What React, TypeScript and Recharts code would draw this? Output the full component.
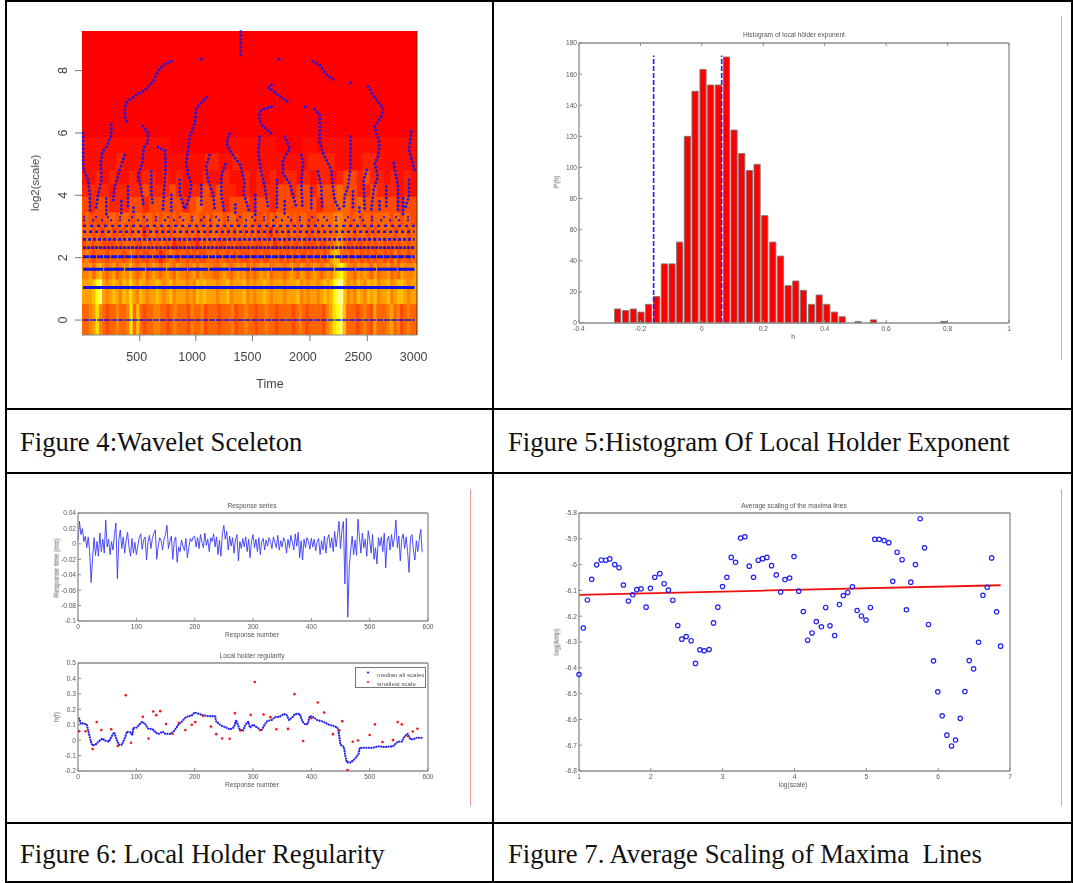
import React from "react";
import { ComposedChart, XAxis, YAxis, Line, Bar, Scatter, ReferenceArea, ReferenceLine, Legend } from "recharts";

// ---------- Figure 4: wavelet skeleton ----------
const heatColors: Record<string, string> = {
  "0": "#FF0000", a: "#FF0E00", "1": "#FF2400", "2": "#FF4A00", "3": "#FF6500", "4": "#FF8300",
  "5": "#FFA000", "6": "#FFBF00", "7": "#FFDF00", "8": "#FFFF00", "9": "#FFFF90",
};
const timeStart = 6;
const timeEnd = 3030;
const heatBands = [
  [-0.48, 0.51], [0.51, 1.31], [1.31, 1.83], [1.83, 2.25], [2.25, 2.65], [2.65, 3.0], [3.0, 3.45],
  [3.45, 3.95], [3.95, 4.35], [4.35, 4.8], [4.8, 5.35], [5.35, 5.85],
];
const heatRows = [
  "334574323343347363233443323433324334233323334233433233433233332343233332457896333234325333453423433",
  "5556895456546575465455654564555454656555455645556454556545554555645455456568996454654656455645665455",
  "4453564345345464345345434543544345354443345434545343454534443454354345434546786443545435344534354445",
  "3432333233332343232233212343233232322333233232322232232233323232322323232356633323323232332324233233",
  "2332332222323333223323233231222322132323222323223232223231232232232222322334543223223232332323233233",
  "3332322332232323331233232323333233233233323232332323223213233233233223233333443332333232333332333233",
  "2322222233233322332332323323233323322323332333223332223232333323233222333334443323323323333323323322",
  "21221112212222212322212221221222222122332322222122",
  "1111a1111211121a1121211a1a111221221222322112111a1a",
  "aa1a1aa1a11a1a1aaa1aa1aa1a1a1a11a1a11a1221211a1a1a",
  "aaaaa1aaaaaaaaaaaa11aa1aaaaaaaaaa1111aaaa11aaaaaa",
  "aaaaaaaaaaaaa000000000aaaaaaa0000aa0aaaaaaaaaaaaaa",
];
const ridgeLines: number[][][] = [
  [[1438, 9.25], [1438, 8.4]],
  [[813, 8.3], [737, 8.18], [692, 7.97], [647, 7.65], [572, 7.36], [503, 7.23], [452, 7.11], [407, 6.97], [391, 6.74], [397, 6.47], [415, 6.31]],
  [[271, 6.26], [271, 5.94], [232, 5.58], [190, 5.4], [175, 5.03], [181, 4.49], [151, 4.01], [130, 3.5]],
  [[16, 5.99], [16, 5.2], [20, 4.81], [61, 4.49], [76, 4.06], [80, 3.4]],
  [[391, 5.29], [346, 4.81], [301, 4.28], [286, 3.8]],
  [[557, 6.22], [602, 5.99], [602, 5.72], [563, 5.51], [551, 5.03], [512, 4.65], [542, 4.17], [563, 3.64]],
  [[692, 5.54], [755, 5.43], [761, 4.92], [749, 4.28], [737, 3.53]],
  [[632, 4.76], [632, 4.06], [647, 3.64]],
  [[1128, 7.14], [1038, 6.79], [1023, 6.31], [978, 5.88], [948, 5.03], [963, 4.65], [993, 4.38], [978, 3.96], [933, 3.53]],
  [[1158, 5.29], [1128, 4.92], [1143, 4.49], [1189, 4.06], [1204, 3.53]],
  [[1339, 5.97], [1309, 5.67], [1369, 5.29], [1435, 4.97], [1474, 4.44], [1465, 4.06], [1520, 3.42]],
  [[1300, 5.0], [1264, 4.6], [1264, 3.96], [1294, 3.42]],
  [[1715, 7.54], [1685, 7.43]],
  [[1715, 7.38], [1775, 7.22], [1874, 6.97]],
  [[1715, 6.84], [1625, 6.74], [1601, 6.53], [1625, 6.26], [1730, 5.94]],
  [[1610, 5.88], [1598, 5.35], [1625, 4.71], [1655, 4.28], [1685, 3.64]],
  [[1835, 5.88], [1880, 5.51], [1820, 5.13], [1820, 4.71], [1880, 4.38], [1940, 3.64]],
  [[1986, 5.29], [2001, 5.03], [1986, 4.38], [1995, 3.64]],
  [[2106, 6.76], [2151, 6.58], [2151, 5.67], [2196, 5.24], [2256, 4.81], [2271, 4.28], [2286, 3.85], [2332, 3.53]],
  [[2136, 4.76], [2166, 4.28], [2175, 3.53]],
  [[2431, 5.88], [2428, 4.81], [2407, 4.28], [2377, 3.96], [2368, 3.53]],
  [[2587, 7.49], [2632, 7.22], [2723, 6.79], [2708, 6.53], [2647, 6.2], [2692, 5.67], [2677, 5.24], [2647, 5.03], [2677, 4.6], [2638, 4.17], [2617, 3.53]],
  [[2578, 4.81], [2548, 4.49], [2557, 3.53]],
  [[2819, 5.03], [2858, 4.28], [2858, 3.53]],
  [[2978, 6.04], [2957, 5.45], [3008, 4.81]],
  [[2957, 4.49], [2957, 3.96], [2918, 3.53]],
  [[2091, 8.29], [2151, 8.18], [2211, 7.86], [2272, 7.72]],
  [[888, 4.49], [888, 4.06], [933, 3.53]],
  [[1083, 4.33], [1083, 3.64]],
  [[2076, 4.22], [2076, 3.48]],
  [[2452, 4.12], [2452, 3.53]],
  [[2753, 4.28], [2753, 3.53]],
  [[2692, 3.8], [2692, 3.48]],
  [[421, 4.28], [421, 3.64]],
  [[226, 3.9], [226, 3.37]],
  [[361, 3.8], [361, 3.37]],
  [[813, 4.01], [813, 3.42]],
  [[1835, 3.8], [1835, 3.37]],
  [[1766, 4.49], [1766, 3.53]],
  [[471, 3.6], [471, 3.37]], [[1390, 3.7], [1390, 3.37]], [[1570, 4.0], [1570, 3.37]], [[2510, 3.6], [2510, 3.37]], [[2905, 3.9], [2905, 3.37]],
];
const isolatedPoints = [[2021, 6.84], [2431, 7.62], [1784, 8.37], [1083, 8.37]];
const scaleRows = [3.3, 3.2, 3.02, 2.83, 2.59, 2.32, 2.03, 1.63, 1.04, 0];
const scaleRowWidths = [1.8, 1.8, 2.4, 2.4, 2.8, 2.8, 3.2, 3, 3, 1.6];
const scaleRowDash = ["2 10", "2 7", "3 4", "3 3", "3 2", "3 1", "6 1", "20 1", "", "6 1"];
const timeTicks = [500, 1000, 1500, 2000, 2500, 3000];
const timeTickMarkShift = [3, 3.7, 5, 7, 9, 0];
const scaleTicks = [0, 2, 4, 6, 8];

// ---------- Figure 5: histogram ----------
const holderBins = [-0.275, -0.249, -0.224, -0.199, -0.174, -0.148, -0.123, -0.098, -0.073, -0.048, -0.023, 0.003, 0.028, 0.053, 0.079, 0.104, 0.129, 0.154, 0.179, 0.204, 0.23, 0.255, 0.28, 0.305, 0.33, 0.356, 0.381, 0.406, 0.431, 0.456, 0.508, 0.558, 0.787];
const holderCounts = [9, 8, 9, 7, 12, 17, 38, 38, 52, 120, 149, 163, 153, 153, 171, 124, 109, 98, 102, 69, 52, 43, 24, 27, 21, 12, 18, 12, 7, 4, 1, 2, 1];
const holderBounds = [-0.157, 0.0645];

// ---------- Figure 6: response series + local regularity ----------
const responseMilli = [
  5, 29, 12, 20, 3, 10, -5, 9, -10, -50, -18, 8, -15, 3, -16, 14, -10, 6, -12, 31,
  -4, 6, -14, 3, -8, 12, 27, -45, 5, 18, -6, 9, -12, 4, 15, -4, -16, 7, -12, 2,
  -14, -3, 8, 13, -7, 5, 9, -21, 3, 11, -6, 7, 14, 18, -20, -3, 8, 4, -8, 6,
  12, 24, -6, 3, 10, -20, 4, 9, -24, -4, -10, 5, -3, -9, 7, -18, -5, 7, 3, 9,
  10, -4, 8, -6, 12, 2, -5, 14, -2, 6, -10, 8, 3, 13, -4, 9, -14, 5, -16, 13,
  24, 6, 16, -8, 10, -3, 8, -12, 5, 12, -22, 3, -6, 7, -4, 9, -10, 6, -18, 4,
  12, -5, 6, -10, 8, -14, 3, 7, -8, 5, -3, 8, 3, -6, 9, 2, -5, 11, -8, 4,
  -4, 8, 3, -12, 6, -5, 11, 2, -8, 13, -3, 15, -18, 4, -21, 6, -5, 8, 3, -7,
  7, -4, 6, -9, 3, 7, -14, 4, -8, 10, -12, 6, 12, -5, 8, -10, 16, -4, 12, 29,
  -6, 18, 29, -52, 33, -95, -30, -8, 10, -14, 5, -15, 32, 8, -12, 14, -5, 6, -16, 17,
  5, -12, 12, -20, -5, -26, 8, -3, 9, -10, 14, -31, 5, 10, -8, 12, -4, 8, 31, -5,
  10, -22, 6, 13, -6, 9, -10, -37, 8, 12, -8, -21, 4, -10, 6, 19, -11,
];
const responseStep = 2.5;
const medianN = [2, 5, 10, 15, 18, 22, 25, 30, 35, 42, 47, 53, 57, 62, 66, 70, 75, 80, 84, 90, 93, 95, 100, 105, 110, 115, 120, 128, 133, 138, 145, 150, 158, 165, 172, 178, 185, 195, 200, 207, 215, 225, 235, 237, 245, 255, 260, 265, 268, 271, 274, 277, 283, 287, 292, 295, 300, 308, 314, 320, 325, 332, 338, 345, 353, 358, 362, 368, 372, 380, 385, 390, 394, 397, 403, 410, 420, 430, 440, 445, 447, 450, 456, 458, 461, 468, 475, 481, 483, 495, 505, 515, 525, 540, 548, 555, 560, 565, 570, 575, 580, 590];
const medianH = [0.14, 0.105, 0.11, 0.1, 0.055, -0.01, -0.035, -0.03, -0.01, 0.01, -0.005, -0.01, 0.02, 0.05, 0.005, -0.03, -0.03, 0.01, 0.055, 0.05, 0.03, 0.08, 0.08, 0.1, 0.12, 0.105, 0.075, 0.07, 0.05, 0.04, 0.055, 0.04, 0.04, 0.06, 0.1, 0.12, 0.15, 0.16, 0.18, 0.17, 0.16, 0.155, 0.155, 0.12, 0.095, 0.08, 0.07, 0.075, 0.09, 0.13, 0.1, 0.07, 0.06, 0.1, 0.12, 0.08, 0.1, 0.08, 0.06, 0.1, 0.125, 0.13, 0.15, 0.15, 0.17, 0.16, 0.13, 0.15, 0.17, 0.17, 0.12, 0.1, 0.105, 0.155, 0.15, 0.13, 0.12, 0.1, 0.09, 0.08, 0.05, -0.03, -0.045, -0.1, -0.145, -0.145, -0.12, -0.09, -0.05, -0.05, -0.05, -0.04, -0.045, -0.04, -0.01, -0.01, 0.025, 0.04, 0.005, 0.005, 0.015, 0.015];
const smallestN = [2, 13, 25, 32, 40, 57, 68, 82, 91, 111, 121, 129, 134, 141, 151, 162, 173, 184, 195, 201, 214, 228, 237, 247, 260, 269, 278, 296, 303, 312, 318, 330, 340, 360, 371, 386, 400, 411, 422, 437, 448, 453, 462, 471, 480, 500, 509, 522, 540, 548, 555, 566, 574, 582];
const smallestH = [0.058, 0.058, -0.058, 0.117, 0.065, 0.071, -0.038, 0.291, -0.017, 0.151, 0.011, 0.186, 0.162, 0.188, 0.104, 0.041, 0.112, 0.065, 0.1, 0.117, 0.158, 0.088, 0.039, 0.011, 0.009, 0.175, 0.063, 0.164, 0.377, 0.065, 0.166, 0.149, 0.071, 0.073, 0.298, -0.006, 0.142, 0.244, 0.179, 0.039, 0.063, 0.123, -0.194, -0.01, -0.002, 0.033, 0.102, -0.012, 0, 0.117, 0.102, 0.025, 0.056, 0.074];

// ---------- Figure 7: maxima scaling ----------
const logScale = [1, 1.06, 1.116, 1.176, 1.246, 1.311, 1.372, 1.428, 1.497, 1.558, 1.618, 1.688, 1.748, 1.804, 1.864, 1.934, 1.994, 2.055, 2.125, 2.185, 2.245, 2.306, 2.375, 2.431, 2.492, 2.561, 2.622, 2.682, 2.743, 2.812, 2.873, 2.933, 2.998, 3.059, 3.119, 3.179, 3.249, 3.309, 3.37, 3.43, 3.495, 3.556, 3.616, 3.681, 3.746, 3.807, 3.867, 3.932, 3.993, 4.058, 4.123, 4.183, 4.244, 4.304, 4.374, 4.434, 4.494, 4.559, 4.625, 4.68, 4.741, 4.806, 4.871, 4.931, 4.996, 5.057, 5.117, 5.178, 5.247, 5.312, 5.368, 5.428, 5.498, 5.558, 5.619, 5.684, 5.749, 5.81, 5.865, 5.935, 5.995, 6.056, 6.121, 6.186, 6.242, 6.307, 6.372, 6.432, 6.493, 6.562, 6.623, 6.683, 6.744, 6.813, 6.869];
const logAmp = [-6.426, -6.246, -6.137, -6.057, -6.001, -5.982, -5.983, -5.978, -6, -6.012, -6.079, -6.141, -6.117, -6.097, -6.094, -6.165, -6.092, -6.049, -6.035, -6.074, -6.099, -6.138, -6.236, -6.289, -6.279, -6.295, -6.383, -6.33, -6.334, -6.329, -6.226, -6.165, -6.085, -6.049, -5.972, -5.991, -5.897, -5.892, -6.006, -6.049, -5.983, -5.977, -5.972, -6.004, -6.04, -6.106, -6.058, -6.052, -5.969, -6.103, -6.182, -6.293, -6.265, -6.221, -6.241, -6.166, -6.237, -6.275, -6.155, -6.12, -6.108, -6.086, -6.178, -6.199, -6.215, -6.166, -5.902, -5.902, -5.907, -5.915, -6.065, -5.952, -5.981, -6.175, -6.068, -6, -5.822, -5.935, -6.232, -6.373, -6.493, -6.586, -6.661, -6.703, -6.68, -6.596, -6.492, -6.372, -6.404, -6.301, -6.119, -6.088, -5.974, -6.183, -6.316];
const fitX = [1, 6.87];
const fitY = [-6.117, -6.08];

// ---------- shared style ----------
const SANS = "'Liberation Sans', Arial, sans-serif";
const AXIS = "#8c8c8c";
const INK = "#555";
const SMALL = 6.6;
const fmt = (v: number) => String(Number(v.toFixed(2)));
const range = (a: number, b: number, s: number) => {
  const out: number[] = [];
  for (let i = 0; a + i * s <= b + 1e-9; i++) out.push(Number((a + i * s).toFixed(3)));
  return out;
};

const Bottom = (p: any) => (
  <g>
    <line x1={p.x} x2={p.x} y1={p.y} y2={p.y - 3} stroke={AXIS} />
    <text x={p.x} y={p.y + 8} textAnchor="middle" fontSize={SMALL} fontFamily={SANS} fill={INK}>{fmt(p.payload.value)}</text>
  </g>
);
const Top = (p: any) => <line x1={p.x} x2={p.x} y1={p.y} y2={p.y + 3} stroke={AXIS} />;
const Left = (p: any) => (
  <g>
    <line x1={p.x} x2={p.x + 3} y1={p.y} y2={p.y} stroke={AXIS} />
    <text x={p.x - 2} y={p.y + 2.4} textAnchor="end" fontSize={SMALL} fontFamily={SANS} fill={INK}>{fmt(p.payload.value)}</text>
  </g>
);
const Right = (p: any) => <line x1={p.x} x2={p.x - 3} y1={p.y} y2={p.y} stroke={AXIS} />;

function Note({ x, y, text, rotate }: { x: number; y: number; text: string; rotate?: boolean }) {
  return (
    <div style={{ position: "absolute", left: x, top: y, transform: `translate(-50%,-50%)${rotate ? " rotate(-90deg)" : ""}`, fontFamily: SANS, fontSize: SMALL, color: INK, whiteSpace: "nowrap", lineHeight: 1, filter: "blur(0.35px)" }}>
      {text}
    </div>
  );
}

type Box = { l: number; t: number; w: number; h: number };
const PAD = { l: 40, t: 5, r: 16, b: 20 };

function MatlabChart({ box, data, xDomain, yDomain, xTicks, yTicks, children, blur = 0.7 }: any) {
  return (
    <div style={{ position: "absolute", left: box.l - PAD.l, top: box.t - PAD.t, filter: `blur(${blur}px)` }}>
      <ComposedChart data={data} width={box.w + PAD.l + PAD.r} height={box.h + PAD.t + PAD.b} margin={{ top: PAD.t - 1, right: PAD.r - 1, bottom: 0, left: 0 }}>
        <XAxis xAxisId={0} dataKey="x" type="number" domain={xDomain} ticks={xTicks} interval={0} height={PAD.b} tickSize={0} tickMargin={0} tick={Bottom} stroke={AXIS} strokeWidth={1.3} />
        <XAxis xAxisId="top" orientation="top" dataKey="x" type="number" domain={xDomain} ticks={xTicks} interval={0} height={1} tickSize={0} tickMargin={0} tick={Top} stroke={AXIS} strokeWidth={1.3} />
        <YAxis yAxisId={0} type="number" domain={yDomain} ticks={yTicks} interval={0} width={PAD.l} tickSize={0} tickMargin={0} tick={Left} stroke={AXIS} strokeWidth={1.3} />
        <YAxis yAxisId="right" orientation="right" type="number" domain={yDomain} ticks={yTicks} interval={0} width={1} tickSize={0} tickMargin={0} tick={Right} stroke={AXIS} strokeWidth={1.3} />
        {children}
      </ComposedChart>
    </div>
  );
}

// ---------- panels ----------
const SkelBox: Box = { l: 82, t: 31, w: 335, h: 304 };

function SkeletonTimeTick(p: any) {
  const shift = timeTickMarkShift[p.index] ?? 0;
  return (
    <g>
      {p.payload.value < 3000 && <line x1={p.x + shift} x2={p.x + shift} y1={p.y} y2={p.y + 6} stroke="#777" />}
      <text x={p.x} y={p.y + 26} textAnchor="middle" fontSize={12.5} fontFamily={SANS} fill="#444">{p.payload.value}</text>
    </g>
  );
}
function SkeletonScaleTick(p: any) {
  return (
    <g>
      <line x1={p.x - 7} x2={p.x} y1={p.y} y2={p.y} stroke="#777" />
      <text transform={`rotate(-90 ${p.x - 16} ${p.y})`} x={p.x - 16} y={p.y + 1} textAnchor="middle" fontSize={12.5} fontFamily={SANS} fill="#444">{p.payload.value}</text>
    </g>
  );
}

function Skeleton() {
  const cells: React.ReactNode[] = [];
  heatRows.forEach((row, r) => {
    const [y1, y2] = heatBands[r];
    const step = (timeEnd - timeStart) / row.length;
    row.split("").forEach((c, i) => {
      cells.push(
        <ReferenceArea key={`${r}-${i}`} x1={timeStart + i * step} x2={Math.min(timeEnd, timeStart + (i + 1) * step + 6)} y1={y1} y2={y2 + 0.02} fill={heatColors[c]} fillOpacity={1} stroke="none" />
      );
    });
  });
  return (
    <div style={{ position: "absolute", left: SkelBox.l - 60, top: SkelBox.t - 4, filter: "blur(0.6px)" }}>
      <ComposedChart width={SkelBox.w + 60 + 20} height={SkelBox.h + 44} margin={{ top: 4, right: 19, bottom: 0, left: 0 }}>
        <XAxis dataKey="t" type="number" domain={[timeStart, timeEnd]} ticks={timeTicks} interval={0} height={40} tickSize={0} tickMargin={0} tick={SkeletonTimeTick} stroke="#888" />
        <YAxis type="number" domain={[-0.48, 9.27]} ticks={scaleTicks} interval={0} width={60} tickSize={0} tickMargin={0} tick={SkeletonScaleTick} axisLine={false} />
        <YAxis yAxisId="right" orientation="right" type="number" domain={[-0.48, 9.27]} ticks={[]} width={1} stroke="#663300" />
        <ReferenceArea x1={timeStart} x2={timeEnd} y1={-0.48} y2={9.27} fill="#FF0000" fillOpacity={1} stroke="none" />
        {cells}
        {scaleRows.map((s, i) => (
          <Line key={`row${i}`} data={[{ t: 16, s }, { t: 3008, s }]} dataKey="s" dot={false} stroke="#1212e8" strokeWidth={scaleRowWidths[i]} strokeDasharray={scaleRowDash[i]} isAnimationActive={false} />
        ))}
        {ridgeLines.map((pts, i) => (
          <Line key={`ridge${i}`} data={pts.map(([t, s]) => ({ t, s }))} dataKey="s" dot={false} stroke="#1818e8" strokeWidth={2.9} strokeLinecap="round" strokeDasharray="0 3.9" isAnimationActive={false} />
        ))}
        <Scatter data={isolatedPoints.map(([t, s]) => ({ t, s }))} dataKey="s" fill="#1818e8" shape={(p: any) => <circle cx={p.cx} cy={p.cy} r={1.5} fill="#1818e8" />} isAnimationActive={false} />
      </ComposedChart>
    </div>
  );
}

function Histogram() {
  const data = holderBins.map((x, i) => ({ x, count: holderCounts[i] }));
  return (
    <MatlabChart box={{ l: 579, t: 43, w: 430, h: 280 }} data={data} xDomain={[-0.4, 1]} yDomain={[0, 180]} xTicks={range(-0.4, 1, 0.2)} yTicks={range(0, 180, 20)}>
      <Bar dataKey="count" barSize={6.2} fill="#ff0000" stroke="#777" strokeWidth={0.9} isAnimationActive={false} />
      {holderBounds.map((x) => (
        <ReferenceLine key={x} segment={[{ x, y: 0 }, { x, y: 172 }]} stroke="#2020ff" strokeWidth={1.6} strokeDasharray="5 2" ifOverflow="visible" />
      ))}
    </MatlabChart>
  );
}

function ResponseSeries() {
  const data = responseMilli.map((v, i) => ({ x: i * responseStep, y: v / 1000 }));
  return (
    <MatlabChart box={{ l: 78, t: 513, w: 350, h: 108 }} xDomain={[0, 600]} yDomain={[-0.1, 0.04]} xTicks={range(0, 600, 100)} yTicks={[-0.1, -0.08, -0.06, -0.04, -0.02, 0, 0.02, 0.04]}>
      <Line data={data} dataKey="y" dot={false} stroke="#3a3af8" strokeWidth={0.9} isAnimationActive={false} />
    </MatlabChart>
  );
}

const RegularityLegend = () => (
  <div style={{ border: "1px solid #777", boxSizing: "border-box", width: 71, height: 21, background: "#fff", fontFamily: SANS, fontSize: 6.2, color: INK, position: "relative" }}>
    <svg width={12} height={19} style={{ position: "absolute", left: 7, top: 0 }}>
      <circle cx={5} cy={4.5} r={1.1} fill="#2222ee" />
      <circle cx={5} cy={14} r={1.1} fill="#ee2222" />
    </svg>
    <div style={{ position: "absolute", left: 21, top: 1.5, lineHeight: "9px", whiteSpace: "nowrap" }}>median all scales</div>
    <div style={{ position: "absolute", left: 21, top: 10.5, lineHeight: "9px", whiteSpace: "nowrap" }}>smallest scale</div>
  </div>
);

function Regularity() {
  const blue = medianN.map((x, i) => ({ x, y: medianH[i] }));
  const red = smallestN.map((x, i) => ({ x, y: smallestH[i] }));
  return (
    <MatlabChart box={{ l: 78, t: 663, w: 350, h: 108 }} xDomain={[0, 600]} yDomain={[-0.2, 0.5]} xTicks={range(0, 600, 100)} yTicks={[-0.2, -0.1, 0, 0.1, 0.2, 0.3, 0.4, 0.5]}>
      <Line data={blue} dataKey="y" name="median all scales" dot={false} stroke="#2020f0" strokeWidth={2.3} strokeLinecap="round" strokeDasharray="0 2.5" isAnimationActive={false} />
      <Scatter data={red} dataKey="y" name="smallest scale" isAnimationActive={false} shape={(p: any) => <circle cx={p.cx} cy={p.cy} r={1.3} fill="#f01818" />} />
      <Legend layout="horizontal" verticalAlign="middle" align="center" content={RegularityLegend} wrapperStyle={{ position: "absolute", left: 317, top: 9, width: 71, height: 21 }} />
    </MatlabChart>
  );
}

function MaximaScaling() {
  const pts = logScale.map((x, i) => ({ x, y: logAmp[i] }));
  const fit = fitX.map((x, i) => ({ x, y: fitY[i] }));
  return (
    <MatlabChart box={{ l: 579, t: 513, w: 431, h: 258 }} xDomain={[1, 7]} yDomain={[-6.8, -5.8]} xTicks={[1, 2, 3, 4, 5, 6, 7]} yTicks={[-6.8, -6.7, -6.6, -6.5, -6.4, -6.3, -6.2, -6.1, -6, -5.9, -5.8]}>
      <Line data={fit} dataKey="y" dot={false} stroke="#f01010" strokeWidth={1.8} isAnimationActive={false} />
      <Scatter data={pts} dataKey="y" isAnimationActive={false} shape={(p: any) => <circle cx={p.cx} cy={p.cy} r={2.2} fill="none" stroke="#2020f5" strokeWidth={1.2} />} />
    </MatlabChart>
  );
}

// ---------- table frame ----------
const ruleX = [5, 492, 1071];
const ruleY = [0, 408, 472, 822, 881];
const pinkRules = [
  { x: 1061, y1: 16, y2: 360 },
  { x: 470, y1: 489, y2: 806 },
  { x: 1061, y1: 489, y2: 806 },
];
const captions = [
  { x: 20, y: 450, text: "Figure 4:Wavelet Sceleton" },
  { x: 508, y: 450, text: "Figure 5:Histogram Of Local Holder Exponent" },
  { x: 20, y: 862, text: "Figure 6: Local Holder Regularity" },
  { x: 508, y: 862, text: "Figure 7. Average Scaling of Maxima  Lines" },
];

export default function App() {
  return (
    <div style={{ position: "absolute", left: 0, top: 0, width: 1073, height: 883, background: "#fff", overflow: "hidden" }}>
      {ruleX.map((x) => <div key={x} style={{ position: "absolute", left: x, top: 0, width: 2, height: 883, background: "#000" }} />)}
      {ruleY.map((y) => <div key={y} style={{ position: "absolute", left: 5, top: y, width: 1068, height: 2, background: "#000" }} />)}
      {pinkRules.map((r, i) => <div key={i} style={{ position: "absolute", left: r.x, top: r.y1, width: 1, height: r.y2 - r.y1, background: "#f39a9a" }} />)}
      {captions.map((c) => (
        <div key={c.text} style={{ position: "absolute", left: c.x, top: c.y - 23, fontFamily: "'Liberation Serif', 'Times New Roman', serif", fontSize: 26.7, lineHeight: "30px", color: "#111", whiteSpace: "pre" }}>{c.text}</div>
      ))}

      <Skeleton />
      <div style={{ position: "absolute", left: 35, top: 183, transform: "translate(-50%,-50%) rotate(-90deg)", fontFamily: SANS, fontSize: 11.5, color: "#444", whiteSpace: "nowrap", filter: "blur(0.4px)" }}>log2(scale)</div>
      <div style={{ position: "absolute", left: 270, top: 384, transform: "translate(-50%,-50%)", fontFamily: SANS, fontSize: 12.5, color: "#444", filter: "blur(0.4px)" }}>Time</div>

      <Histogram />
      <Note x={794} y={35} text="Histogram of local hölder exponent" />
      <Note x={793} y={337} text="h" />
      <Note x={557} y={182} text="P(h)" rotate />

      <ResponseSeries />
      <Note x={252} y={506} text="Response series" />
      <Note x={252} y={635} text="Response number" />
      <Note x={57} y={568} text="Response time (ms)" rotate />

      <Regularity />
      <Note x={252} y={656} text="Local holder regularity" />
      <Note x={252} y={785} text="Response number" />
      <Note x={57} y={717} text="h(t)" rotate />

      <MaximaScaling />
      <Note x={794} y={506} text="Average scaling of the maxima lines" />
      <Note x={793} y={785} text="log(scale)" />
      <Note x={557} y={642} text="log(Amp)" rotate />
    </div>
  );
}
